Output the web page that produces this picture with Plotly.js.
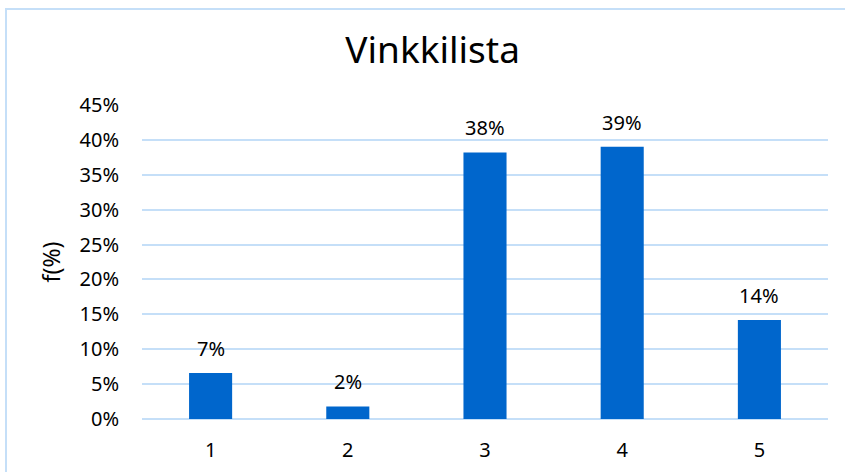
<!DOCTYPE html>
<html>
<head>
<meta charset="utf-8">
<script src="https://cdn.plot.ly/plotly-3.0.1.min.js"></script>
<style>
html,body{margin:0;padding:0;background:#fff;}
#wrap{position:relative;width:845px;height:472px;overflow:hidden;}
#chart{position:absolute;left:0;top:0;width:845px;height:472px;}
#frame{position:absolute;left:5px;top:8px;width:860px;height:480px;border-left:2px solid #C5DFF8;border-top:2px solid #C5DFF8;pointer-events:none;}
</style>
</head>
<body>
<div id="wrap"><div id="chart"></div><div id="frame"></div></div>
<script>
const categories = ['1', '2', '3', '4', '5'];
const values = [0.066, 0.018, 0.382, 0.390, 0.142];
const yTicks = [0, 0.05, 0.10, 0.15, 0.20, 0.25, 0.30, 0.35, 0.40, 0.45];

const font = 'Noto Sans, Open Sans, sans-serif';
const grid = '#C5DFF8';

const trace = {
  type: 'bar',
  x: categories,
  y: values,
  marker: {color: '#0066CC', line: {width: 0}},
  hoverinfo: 'none'
};

const annotations = categories.map((c, i) => ({
  x: i, y: values[i], xref: 'x', yref: 'y',
  text: Math.round(values[i] * 100) + '%',
  showarrow: false, yanchor: 'bottom', yshift: 9,
  font: {family: font, size: 20, color: '#000'}
}));

const layout = {
  width: 845, height: 472,
  margin: {l: 142, r: 17, t: 105, b: 53, pad: 0},
  paper_bgcolor: '#fff', plot_bgcolor: '#fff',
  title: {text: 'Vinkkilista', font: {family: font, size: 37, color: '#000'}, x: 0.512, xanchor: 'center', y: 0.893, yanchor: 'middle'},
  bargap: 0.686,
  showlegend: false,
  xaxis: {
    type: 'category', range: [-0.5, 4.5], autorange: false,
    showgrid: false, zeroline: false, showline: false,
    ticks: '', ticklabelstandoff: 17,
    tickfont: {family: font, size: 20, color: '#000'}
  },
  yaxis: {
    range: [0, 0.45], autorange: false, tickvals: yTicks, tickformat: '.0%',
    showgrid: true, gridcolor: grid, gridwidth: 2,
    zeroline: true, zerolinecolor: grid, zerolinewidth: 2,
    showline: false, ticks: '', ticklabelstandoff: 22,
    tickfont: {family: font, size: 20, color: '#000'},
    title: {text: 'f(%)', standoff: 12, font: {family: font, size: 23, color: '#000'}}
  },
  annotations: annotations
};

Plotly.newPlot('chart', [trace], layout, {displayModeBar: false, staticPlot: true});
</script>
</body>
</html>
